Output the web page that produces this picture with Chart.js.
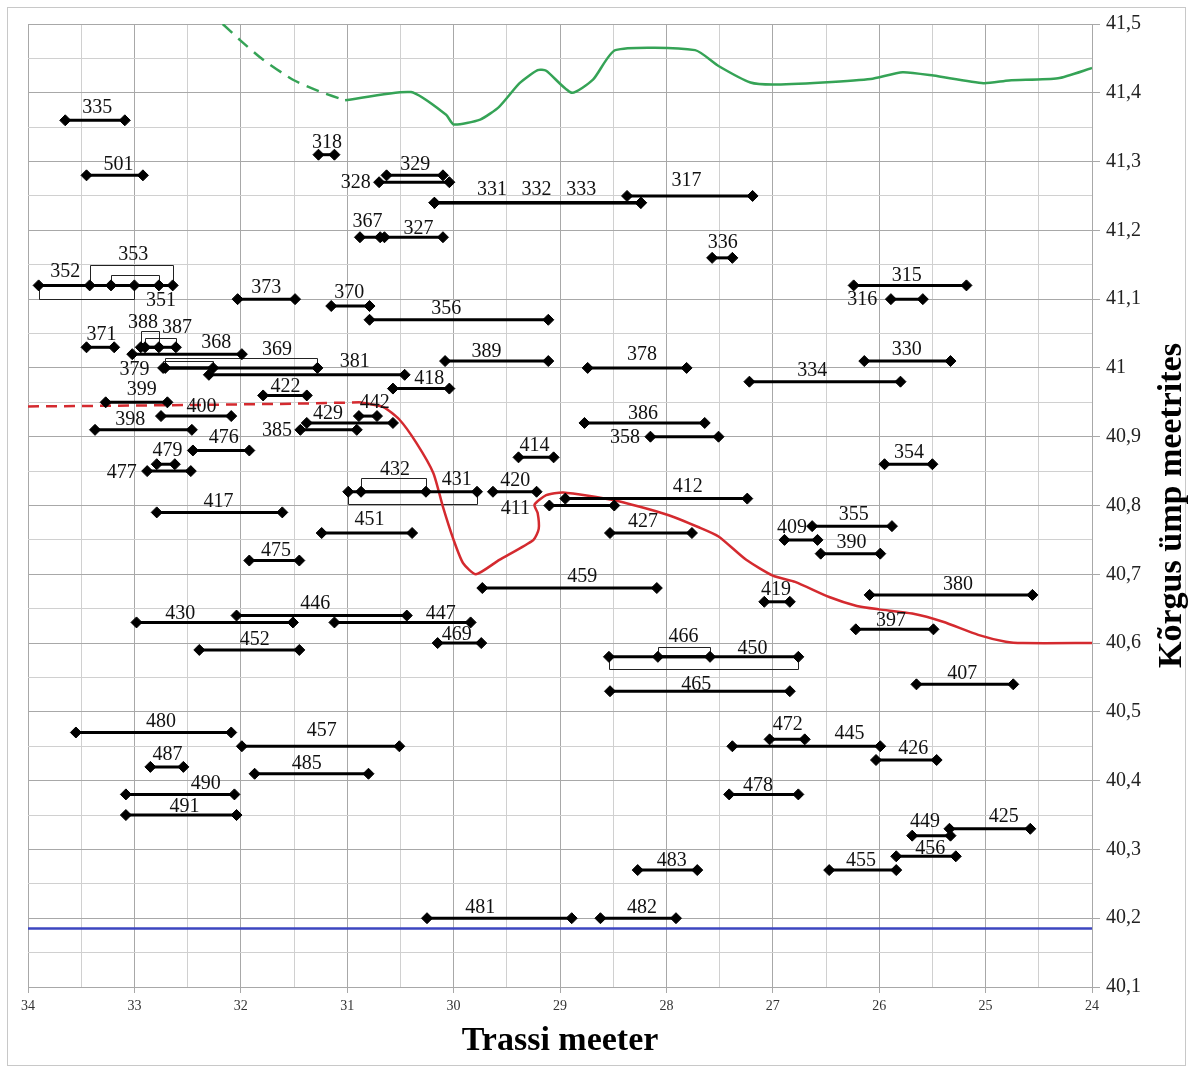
<!DOCTYPE html>
<html>
<head>
<meta charset="utf-8">
<script src="https://cdn.jsdelivr.net/npm/chart.js@4.4.1/dist/chart.umd.min.js"></script>
<style>
  html, body { margin: 0; padding: 0; background: #fff; }
  #wrap { width: 1191px; height: 1070px; }
</style>
</head>
<body>
<div id="wrap"><canvas id="graafik" width="1191" height="1070"></canvas></div>
<script>
// lõigud: nimi, algus- ja lõpumeeter, kõrgus
var nimed = ['335','501','318','329','328','331','332','333','317','367','327','336',
  '352','353','351','373','370','356','315','316','371','388','387','368','379','369',
  '381','389','378','330','334','418','422','399','400','442','429','386','398','385',
  '358','476','414','479','354','477','432','431','420','412','411','417','355','451',
  '427','409','390','475','459','380','419','446','430','447','397','469','452','466',
  '450','407','465','480','472','457','445','426','487','485','490','478','491','425',
  '449','456','455','483','481','482'];
var algus = [33.65,33.45,31.27,30.63,30.70,30.18,30.18,30.18,28.37,30.88,30.65,27.57,
  33.90,33.42,33.22,32.03,31.15,30.79,26.24,25.89,33.45,32.94,32.90,33.02,32.73,32.71,
  32.30,30.08,28.74,26.14,27.22,30.57,31.79,33.27,32.75,30.89,31.38,28.77,33.37,31.44,
  28.15,32.45,29.39,32.79,25.95,32.88,30.87,30.99,29.63,28.95,29.10,32.79,26.63,31.24,
  28.53,26.89,26.55,31.92,29.73,26.09,27.08,32.04,32.98,31.12,26.22,30.15,32.39,28.08,
  28.54,25.65,28.53,33.55,27.03,31.99,27.38,26.03,32.85,31.87,33.08,27.41,33.08,25.34,
  25.69,25.84,26.47,28.27,30.25,28.62];
var lopp = [33.09,32.92,31.12,30.10,30.04,28.24,28.24,28.24,27.19,30.69,30.10,27.38,
  33.00,32.64,32.77,31.49,30.79,29.11,25.18,25.59,33.19,32.77,32.61,31.99,32.26,31.28,
  30.46,29.11,27.81,25.33,25.80,30.04,31.38,32.69,32.09,30.72,30.57,27.64,32.46,30.91,
  27.51,31.92,29.06,32.62,25.50,32.47,30.26,29.78,29.22,27.24,28.49,31.61,25.88,30.39,
  27.76,26.58,25.99,31.45,28.09,24.56,26.84,30.44,31.51,29.84,25.49,29.74,31.45,27.59,
  26.76,24.74,26.84,32.09,26.70,30.51,25.99,25.46,32.54,30.80,32.06,26.76,32.04,24.58,
  25.33,25.28,25.84,27.71,28.89,27.91];
var korgus = [41.36,41.28,41.31,41.28,41.27,41.24,41.24,41.24,41.25,41.19,41.19,41.16,
  41.12,41.12,41.12,41.10,41.09,41.07,41.12,41.10,41.03,41.03,41.03,41.02,41.00,41.00,
  40.99,41.01,41.00,41.01,40.98,40.97,40.96,40.95,40.93,40.93,40.92,40.92,40.91,40.91,
  40.90,40.88,40.87,40.86,40.86,40.85,40.82,40.82,40.82,40.81,40.80,40.79,40.77,40.76,
  40.76,40.75,40.73,40.72,40.68,40.67,40.66,40.64,40.63,40.63,40.62,40.60,40.59,40.58,
  40.58,40.54,40.53,40.47,40.46,40.45,40.45,40.43,40.42,40.41,40.38,40.38,40.35,40.33,
  40.32,40.29,40.27,40.27,40.20,40.20];
// siltide asukohad (meeter, kõrgus)
var sildiX = [33.35,33.15,31.19,30.36,30.92,29.64,29.22,28.80,27.81,30.81,30.33,27.47,
  33.65,33.01,32.75,31.76,30.98,30.07,25.74,26.16,33.31,32.92,32.60,32.23,33.00,31.66,
  30.93,29.69,28.23,25.74,26.63,30.23,31.58,32.93,32.37,30.74,31.18,28.22,33.04,31.66,
  28.39,32.16,29.24,32.69,25.72,33.12,30.55,29.97,29.42,27.80,29.42,32.21,26.24,30.79,
  28.22,26.82,26.26,31.67,28.79,25.26,26.97,31.30,32.57,30.12,25.89,29.97,31.87,27.84,
  27.19,25.22,27.72,32.75,26.86,31.24,26.28,25.68,32.69,31.38,32.33,27.14,32.53,24.83,
  25.57,25.52,26.17,27.95,29.75,28.23];
var sildiY = [41.378,41.295,41.328,41.296,41.269,41.259,41.259,41.259,41.272,41.212,41.202,41.182,
  41.140,41.165,41.097,41.116,41.110,41.086,41.134,41.099,41.048,41.065,41.058,41.036,40.998,41.027,
  41.009,41.023,41.019,41.026,40.996,40.984,40.973,40.968,40.943,40.949,40.934,40.934,40.925,40.908,
  40.899,40.898,40.887,40.879,40.876,40.848,40.852,40.838,40.836,40.827,40.796,40.806,40.786,40.779,
  40.776,40.768,40.746,40.734,40.696,40.685,40.678,40.657,40.642,40.642,40.632,40.612,40.605,40.609,
  40.592,40.556,40.540,40.486,40.481,40.473,40.468,40.447,40.437,40.425,40.396,40.392,40.362,40.347,
  40.340,40.301,40.284,40.283,40.215,40.215];

// roheline joon (katkendlik osa ja pidev osa)
var rohelineKatkX = [32.17,32.01,31.79,31.51,31.26,31.02];
var rohelineKatkY = [41.500,41.477,41.448,41.419,41.402,41.389];
var rohelineX = [31.02,30.40,30.07,30.00,29.75,29.57,29.38,29.21,29.13,28.89,28.69,28.48,
  27.73,27.51,27.21,27.00,26.53,26.08,25.78,25.49,25.02,24.78,24.32,24.00];
var rohelineY = [41.389,41.401,41.368,41.354,41.361,41.380,41.414,41.433,41.432,41.400,41.419,41.462,
  41.462,41.439,41.415,41.412,41.415,41.420,41.430,41.425,41.414,41.418,41.421,41.436];

// punane joon
var punaneKatkX = [34.00,32.50,31.50,30.88];
var punaneKatkY = [40.944,40.946,40.948,40.950];
var punaneX = [30.88,30.66,30.51,30.35,30.19,30.10,30.00,29.91,29.79,29.57,29.25,29.20,29.21,29.24,
  29.13,28.97,28.50,28.00,27.69,27.51,27.25,27.00,26.79,26.47,26.21,26.00,25.69,25.40,25.07,24.81,24.65,24.00];
var punaneY = [40.950,40.943,40.925,40.891,40.847,40.798,40.750,40.716,40.700,40.721,40.750,40.766,40.789,40.801,
  40.815,40.819,40.808,40.787,40.768,40.755,40.721,40.698,40.689,40.667,40.654,40.649,40.643,40.631,40.612,40.602,40.600,40.600];

// sinine joon
var sinineX = [34, 24];
var sinineY = [40.185, 40.185];

// klambrid (px, miinus = üles)
var klambrid = { '352': 14, '353': -20, '351': -10, '388': -16, '387': -9, '379': -7,
  '369': -10, '432': -14, '431': 12, '466': -10, '450': 12 };

function punktid(xs, ys) {
  return xs.map(function (x, i) { return { x: x, y: ys[i] }; });
}

var andmed = [];
for (var i = 0; i < nimed.length; i++) {
  andmed.push({
    data: [{ x: algus[i], y: korgus[i] }, { x: lopp[i], y: korgus[i] }],
    showLine: true,
    borderColor: '#000',
    borderWidth: 3,
    pointStyle: 'rectRot',
    pointRadius: 5.5,
    pointBackgroundColor: '#000',
    pointBorderColor: '#000',
    pointBorderWidth: 1
  });
}
andmed.push({ data: punktid(punaneKatkX, punaneKatkY), showLine: true, borderColor: '#d42a2f', borderWidth: 2.5, borderDash: [11, 7], pointRadius: 0 });
andmed.push({ data: punktid(punaneX, punaneY), showLine: true, borderColor: '#d42a2f', borderWidth: 2.5, tension: 0.2, pointRadius: 0 });
andmed.push({ data: punktid(rohelineKatkX, rohelineKatkY), showLine: true, borderColor: '#35a356', borderWidth: 2.5, borderDash: [13, 8], tension: 0.2, pointRadius: 0 });
andmed.push({ data: punktid(rohelineX, rohelineY), showLine: true, borderColor: '#35a356', borderWidth: 2.5, tension: 0.2, pointRadius: 0 });
andmed.push({ data: punktid(sinineX, sinineY), showLine: true, borderColor: '#3c46c0', borderWidth: 2.5, pointRadius: 0 });

function onTaisarv(v) { return Math.abs(v - Math.round(v)) < 1e-6; }
function onKumnendik(v) { return Math.abs(v * 10 - Math.round(v * 10)) < 1e-6; }

var kujundus = {
  id: 'kujundus',
  beforeDraw: function (chart) {
    var ctx = chart.ctx;
    ctx.save();
    ctx.fillStyle = '#fff';
    ctx.fillRect(0, 0, chart.width, chart.height);
    ctx.strokeStyle = '#c8c8c8';
    ctx.lineWidth = 1;
    ctx.strokeRect(7.5, 7.5, 1178, 1058);
    ctx.restore();
  },
  beforeDatasetsDraw: function (chart) {
    var ctx = chart.ctx, sx = chart.scales.x, sy = chart.scales.y;
    ctx.save();
    ctx.strokeStyle = '#222';
    ctx.lineWidth = 1;
    for (var i = 0; i < nimed.length; i++) {
      var k = klambrid[nimed[i]];
      if (!k) continue;
      var x1 = Math.round(sx.getPixelForValue(algus[i])) + 0.5;
      var x2 = Math.round(sx.getPixelForValue(lopp[i])) + 0.5;
      var y = sy.getPixelForValue(korgus[i]);
      var y2 = Math.round(y + k) + 0.5;
      ctx.beginPath();
      ctx.moveTo(x1, y);
      ctx.lineTo(x1, y2);
      ctx.lineTo(x2, y2);
      ctx.lineTo(x2, y);
      ctx.stroke();
    }
    ctx.restore();
  },
  afterDatasetsDraw: function (chart) {
    var ctx = chart.ctx, sx = chart.scales.x, sy = chart.scales.y, ca = chart.chartArea;
    ctx.save();
    ctx.fillStyle = '#111';
    ctx.font = '20px "Liberation Serif"';
    ctx.textAlign = 'center';
    ctx.textBaseline = 'middle';
    for (var i = 0; i < nimed.length; i++) {
      ctx.fillText(nimed[i], sx.getPixelForValue(sildiX[i]), sy.getPixelForValue(sildiY[i]));
    }
    // telgede pealkirjad
    ctx.fillStyle = '#000';
    ctx.font = 'bold 34px "Liberation Serif"';
    ctx.textBaseline = 'alphabetic';
    ctx.fillText('Trassi meeter', (ca.left + ca.right) / 2, 1050);
    ctx.translate(1181, (ca.top + ca.bottom) / 2);
    ctx.rotate(-Math.PI / 2);
    ctx.fillText('Kõrgus ümp meetrites', 0, 0);
    ctx.restore();
  }
};

new Chart(document.getElementById('graafik').getContext('2d'), {
  type: 'scatter',
  data: { datasets: andmed },
  options: {
    responsive: false,
    animation: false,
    layout: { padding: { left: 28, top: 24, right: 0, bottom: 0 } },
    plugins: { legend: { display: false }, tooltip: { enabled: false } },
    scales: {
      x: {
        type: 'linear',
        position: 'bottom',
        reverse: true,
        min: 24,
        max: 34,
        afterFit: function (s) { s.height = 83; },
        ticks: {
          stepSize: 0.5,
          autoSkip: false,
          maxRotation: 0,
          padding: 5,
          color: '#333',
          font: { family: 'Liberation Serif', size: 14 },
          callback: function (v) { return onTaisarv(v) ? String(Math.round(v)) : ''; }
        },
        grid: {
          color: function (c) { return c.tick && onTaisarv(c.tick.value) ? '#a8a8a8' : '#d0d0d0'; },
          tickColor: function (c) { return c.tick && onTaisarv(c.tick.value) ? '#a8a8a8' : 'rgba(0,0,0,0)'; },
          tickLength: 6
        },
        border: { color: '#a8a8a8' }
      },
      y: {
        type: 'linear',
        position: 'right',
        min: 40.1,
        max: 41.5,
        afterFit: function (s) { s.width = 99; },
        ticks: {
          stepSize: 0.05,
          autoSkip: false,
          padding: 6,
          color: '#222',
          font: { family: 'Liberation Serif', size: 20 },
          callback: function (v) {
            if (!onKumnendik(v)) return '';
            return String(Math.round(v * 10) / 10).replace('.', ',');
          }
        },
        grid: {
          color: function (c) { return c.tick && onKumnendik(c.tick.value) ? '#a8a8a8' : '#d0d0d0'; },
          tickColor: function (c) { return c.tick && onKumnendik(c.tick.value) ? '#a8a8a8' : 'rgba(0,0,0,0)'; },
          tickLength: 8
        },
        border: { color: '#a8a8a8' }
      }
    }
  },
  plugins: [kujundus]
});
</script>
</body>
</html>
